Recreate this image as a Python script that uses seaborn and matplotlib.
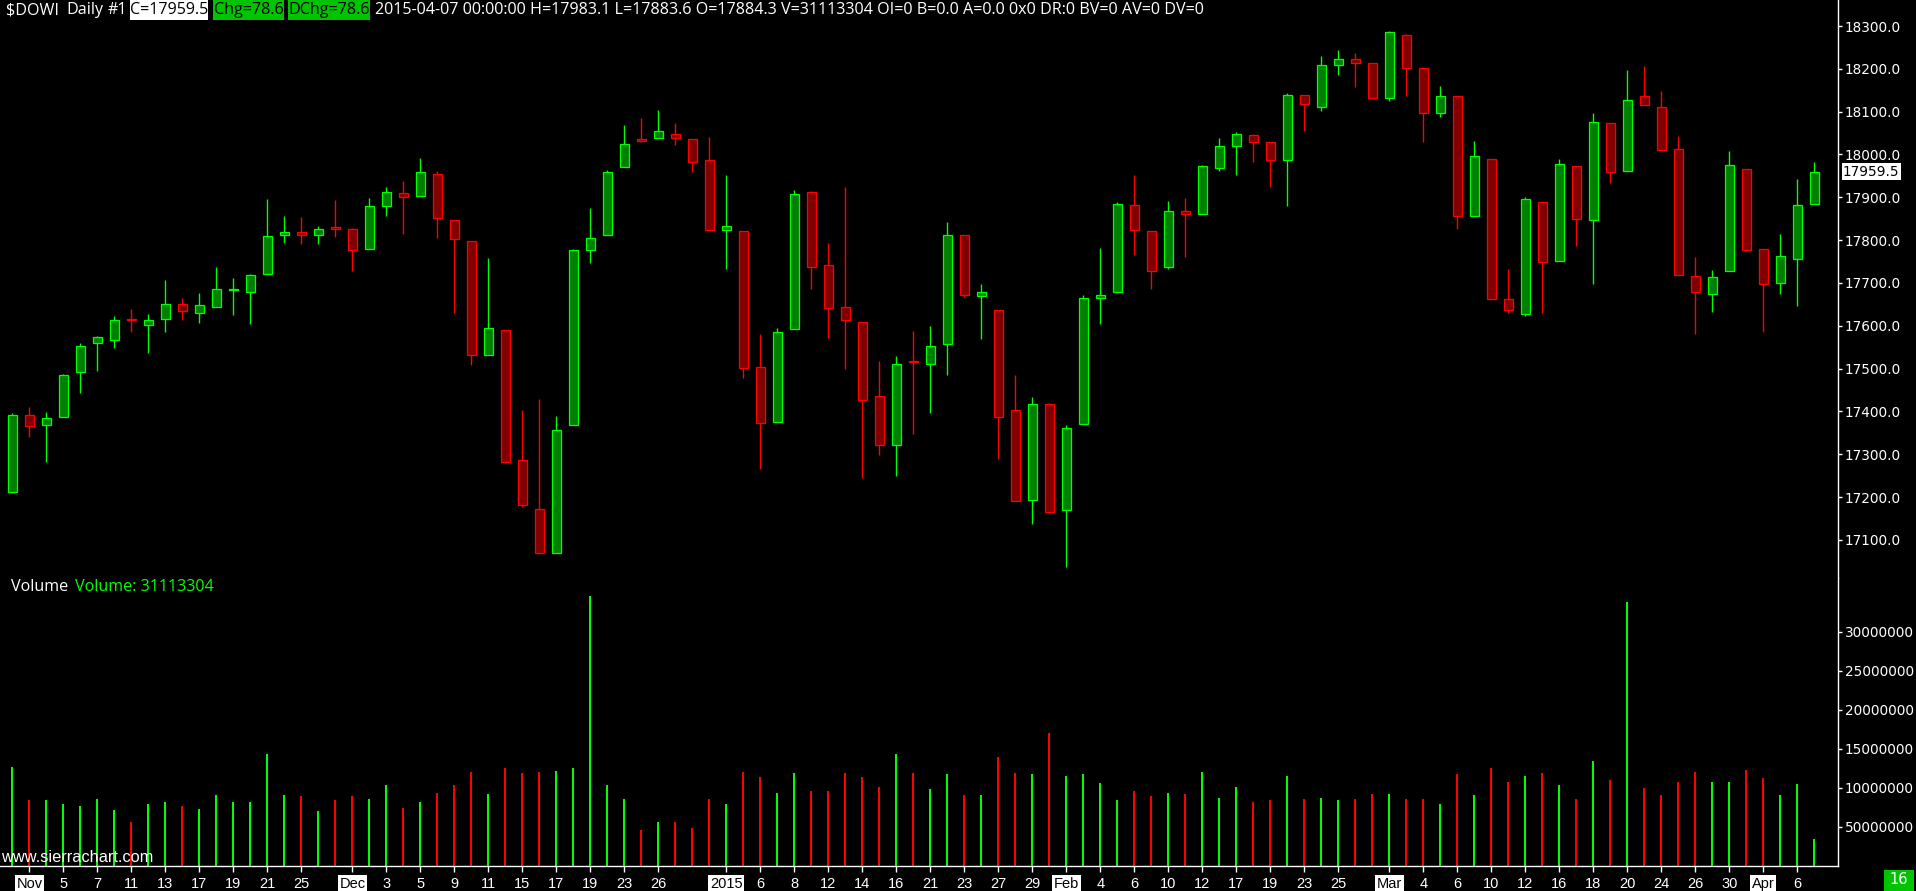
import matplotlib
matplotlib.use("Agg")
import matplotlib.pyplot as plt
from matplotlib.patches import Rectangle
from matplotlib import font_manager
import seaborn as sns
import numpy as np
import pandas as pd

# ---------------- data ----------------
opens = [17211, 17391, 17369, 17386, 17491, 17559, 17568, 17616, 17603, 17617,
         17652, 17631, 17643, 17684, 17678, 17720, 17811, 17818, 17811, 17830,
         17827, 17779, 17880, 17910, 17902, 17954, 17846, 17797, 17533, 17590,
         17286, 17173, 17069, 17368, 17778, 17811, 17970, 18035, 18038, 18047,
         18035, 17986, 17823, 17821, 17503, 17375, 17592, 17912, 17741, 17645,
         17608, 17435, 17321, 17518, 17510, 17557, 17811, 17669, 17638, 17403,
         17193, 17417, 17169, 17370, 17664, 17678, 17881, 17821, 17737, 17867,
         17862, 17968, 18019, 18045, 18028, 17986, 18140, 18112, 18208, 18224,
         18213, 18133, 18280, 18203, 18096, 18136, 17856, 17989, 17662, 17627,
         17888, 17751, 17972, 17846, 18073, 17961, 18136, 18110, 18012, 17716,
         17674, 17727, 17965, 17779, 17699, 17755, 17884.3]
highs = [17396, 17411, 17399, 17487, 17560, 17576, 17623, 17639, 17628, 17707,
         17665, 17677, 17737, 17712, 17721, 17896, 17856, 17854, 17833, 17894,
         17828, 17898, 17924, 17938, 17992, 17961, 17846, 17797, 17758, 17590,
         17404, 17429, 17390, 17779, 17875, 17964, 18069, 18085, 18104, 18073,
         18035, 18042, 17952, 17821, 17581, 17596, 17916, 17914, 17793, 17924,
         17608, 17519, 17529, 17589, 17600, 17842, 17811, 17698, 17638, 17485,
         17434, 17420, 17368, 17671, 17782, 17888, 17952, 17821, 17891, 17898,
         17975, 18038, 18052, 18048, 18028, 18143, 18140, 18230, 18243, 18238,
         18213, 18288, 18281, 18203, 18160, 18136, 18031, 17989, 17733, 17900,
         17888, 17989, 17972, 18096, 18073, 18197, 18207, 18148, 18043, 17761,
         17730, 18008, 17965, 17779, 17814, 17943, 17983.1]
lows = [17209, 17341, 17281, 17386, 17442, 17495, 17549, 17586, 17537, 17586,
        17614, 17607, 17643, 17626, 17605, 17720, 17794, 17792, 17792, 17808,
        17729, 17779, 17857, 17815, 17902, 17806, 17631, 17509, 17533, 17280,
        17178, 17067, 17069, 17368, 17747, 17811, 17970, 18028, 18038, 18023,
        17960, 17823, 17733, 17477, 17265, 17375, 17592, 17687, 17572, 17500,
        17244, 17299, 17250, 17348, 17396, 17484, 17668, 17570, 17290, 17190,
        17137, 17164, 17037, 17370, 17605, 17678, 17766, 17687, 17733, 17761,
        17862, 17962, 17953, 17983, 17925, 17880, 18055, 18101, 18185, 18158,
        18131, 18124, 18137, 18030, 18088, 17827, 17856, 17662, 17629, 17622,
        17631, 17751, 17787, 17698, 17934, 17961, 18115, 18010, 17718, 17582,
        17633, 17727, 17774, 17586, 17675, 17647, 17883.6]
closes = [17392, 17365, 17384, 17484, 17554, 17573, 17613, 17614, 17613, 17652,
          17634, 17648, 17687, 17686, 17718, 17809, 17818, 17813, 17827, 17827,
          17776, 17879, 17912, 17900, 17958, 17851, 17802, 17533, 17596, 17281,
          17181, 17069, 17356, 17778, 17804, 17958, 18024, 18031, 18054, 18038,
          17982, 17823, 17832, 17501, 17372, 17585, 17907, 17737, 17641, 17613,
          17427, 17321, 17512, 17515, 17554, 17813, 17673, 17678, 17386, 17191,
          17417, 17165, 17361, 17666, 17673, 17884, 17823, 17729, 17867, 17862,
          17972, 18019, 18047, 18028, 17986, 18140, 18117, 18208, 18224, 18213,
          18131, 18287, 18203, 18096, 18136, 17856, 17996, 17662, 17636, 17895,
          17748, 17977, 17849, 18075, 17958, 18127, 18115, 18010, 17718, 17678,
          17713, 17975, 17776, 17697, 17762, 17881, 17959.5]
volumes_m = [12.6, 8.4, 8.4, 7.9, 7.6, 8.5, 7.1, 5.6, 7.9, 8.2,
             7.6, 7.3, 9.0, 8.1, 8.2, 14.3, 9.0, 8.9, 7.0, 8.4,
             8.9, 8.5, 10.3, 7.4, 8.2, 9.3, 10.3, 12.0, 9.2, 12.5,
             11.8, 12.0, 12.1, 12.5, 34.6, 10.3, 8.5, 4.5, 5.6, 5.6,
             4.8, 8.5, 7.9, 12.0, 11.4, 9.3, 11.8, 9.5, 9.5, 11.8,
             11.4, 10.1, 14.3, 11.8, 9.8, 11.7, 9.0, 9.0, 13.9, 11.8,
             11.7, 17.0, 11.5, 11.7, 10.6, 8.4, 9.6, 8.9, 9.3, 9.2,
             12.0, 8.7, 10.1, 8.2, 8.4, 11.5, 8.5, 8.7, 8.4, 8.5,
             9.2, 9.2, 8.5, 8.5, 7.9, 11.7, 9.0, 12.5, 10.7, 11.5,
             11.8, 10.3, 8.5, 13.4, 11.0, 33.8, 10.0, 9.0, 10.7, 12.0,
             10.7, 10.7, 12.3, 11.2, 9.0, 10.4, 3.4]

tick_labels = ["Nov", "5", "7", "11", "13", "17", "19", "21", "25",
               "Dec", "3", "5", "9", "11", "15", "17", "19", "23", "26",
               "2015", "6", "8", "12", "14", "16", "21", "23", "27", "29",
               "Feb", "4", "6", "10", "12", "17", "19", "23", "25",
               "Mar", "4", "6", "10", "12", "16", "18", "20", "24", "26", "30",
               "Apr", "6"]
tick_bars = [1, 3, 5, 7, 9, 11, 13, 15, 17,
             20, 22, 24, 26, 28, 30, 32, 34, 36, 38,
             42, 44, 46, 48, 50, 52, 54, 56, 58, 60,
             62, 64, 66, 68, 70, 72, 74, 76, 78,
             81, 83, 85, 87, 89, 91, 93, 95, 97, 99, 101,
             103, 105]
month_labels = ["Nov", "Dec", "2015", "Feb", "Mar", "Apr"]

price_ticks = [17100, 17200, 17300, 17400, 17500, 17600, 17700, 17800,
               17900, 18000, 18100, 18200, 18300]
vol_ticks = [5e6, 10e6, 15e6, 20e6, 25e6, 30e6]
vol_tick_labels = ["50000000", "10000000", "15000000", "20000000",
                   "25000000", "30000000"]

header_symbol = "$DOWI"
header_period = "Daily"
header_num = "#1"
header_close = "C=17959.5"
header_chg = "Chg=78.6"
header_dchg = "DChg=78.6"
header_tail = ("2015-04-07 00:00:00 H=17983.1 L=17883.6 O=17884.3 V=31113304 "
               "OI=0 B=0.0 A=0.0 0x0 DR:0 BV=0 AV=0 DV=0")
last_price = 17959.5
volume_title = "Volume"
volume_value = "Volume: 31113304"
corner_count = "16"
watermark = "www.sierrachart.com"

# ---------------- layout ----------------
W, H, DPI = 1916, 891, 100
AXIS_X = 1838          # right axis line (px)
SPLIT_Y = 578          # boundary price / volume pane (px)
BASE_Y = 865.5         # volume baseline / bottom axis (px)
X0, BAR_PX = 12.33, 17.0
Y_18300, PX_PER_PT = 26.0, 0.4283
VOL_PX_PER_M = 7.8

GREEN = "#00FF00"
GREEN_FILL = "#008000"
RED = "#FF0000"
RED_FILL = "#800000"
BOX_GREEN = "#00C400"

sns.set_theme(style="dark", rc={
    "figure.facecolor": "black", "axes.facecolor": "black",
    "savefig.facecolor": "black", "axes.grid": False,
    "text.color": "white", "xtick.color": "white", "ytick.color": "white",
})

avail = {f.name for f in font_manager.fontManager.ttflist}


def pick(*names):
    for n in names:
        if n in avail:
            return n
    return "DejaVu Sans"


F_AXIS = pick("DejaVu Sans")
F_HEAD = pick("Open Sans", "Noto Sans", "DejaVu Sans")
F_NARROW = pick("Liberation Sans Narrow", "Liberation Sans", "DejaVu Sans")
plt.rcParams["font.family"] = [F_AXIS, "DejaVu Sans"]

fig = plt.figure(figsize=(W / DPI, H / DPI), dpi=DPI, facecolor="black")


def fx(px):
    return px / W


def fy(py):
    return 1 - py / H


ax_p = fig.add_axes([0, fy(SPLIT_Y), fx(AXIS_X), SPLIT_Y / H])
ax_v = fig.add_axes([0, fy(BASE_Y), fx(AXIS_X), (BASE_Y - SPLIT_Y) / H])

n = len(opens)
x = np.arange(n)
o = np.array(opens, float)
hi = np.array(highs, float)
lo = np.array(lows, float)
c = np.array(closes, float)
up = c >= o
edge = np.where(up, GREEN, RED)
fill = np.where(up, GREEN_FILL, RED_FILL)

xlim = (-X0 / BAR_PX, (AXIS_X - X0) / BAR_PX)

# ---- price pane ----
ax_p.vlines(x, lo, hi, colors=edge, linewidth=1.0, zorder=1)
body_lo = np.minimum(o, c)
body_h = np.maximum(np.abs(c - o), 0.6)
ax_p.bar(x, body_h, bottom=body_lo, width=0.56, color=fill, edgecolor=edge,
         linewidth=0.9, zorder=2)
ax_p.set_xlim(*xlim)
ax_p.set_ylim(18300 - (SPLIT_Y - Y_18300) / PX_PER_PT, 18300 + Y_18300 / PX_PER_PT)
ax_p.set_xticks([])
ax_p.yaxis.tick_right()
ax_p.set_yticks(price_ticks, [f"{p:.1f}" for p in price_ticks])
ax_p.tick_params(axis="y", right=True, left=False, labelright=True, labelleft=False,
                 colors="white", length=3, width=1, pad=2, labelsize=9.8,
                 direction="out")
for s in ["top", "left", "bottom"]:
    ax_p.spines[s].set_visible(False)
ax_p.spines["right"].set_color("white")
ax_p.spines["right"].set_linewidth(1.0)

# ---- volume pane (seaborn) ----
vol_df = pd.DataFrame({"bar": x, "volume": np.array(volumes_m) * 1e6,
                       "dir": np.where(up, "up", "down")})
sns.barplot(data=vol_df, x="bar", y="volume", hue="dir",
            palette={"up": GREEN, "down": RED}, native_scale=True,
            width=0.13, dodge=False, legend=False, errorbar=None,
            linewidth=0, saturation=1, ax=ax_v)
ax_v.set_xlim(*xlim)
ax_v.set_ylim(0, (BASE_Y - SPLIT_Y) / VOL_PX_PER_M * 1e6)
ax_v.set_xlabel("")
ax_v.set_ylabel("")
ax_v.yaxis.tick_right()
ax_v.set_yticks(vol_ticks, vol_tick_labels)
ax_v.tick_params(axis="y", right=True, left=False, labelright=True, labelleft=False,
                 colors="white", length=3, width=1, pad=2, labelsize=9.8,
                 direction="out")
ax_v.set_xticks(tick_bars, tick_labels)
ax_v.tick_params(axis="x", bottom=True, colors="white", length=4, width=1,
                 pad=4, labelsize=10.5, direction="out")
for lab in ax_v.get_xticklabels():
    lab.set_fontfamily([F_NARROW, "DejaVu Sans"])
    if lab.get_text() in month_labels:
        lab.set_color("black")
        lab.set_bbox(dict(facecolor="white", edgecolor="none", pad=1.2))
for s in ["top", "left"]:
    ax_v.spines[s].set_visible(False)
for s in ["right", "bottom"]:
    ax_v.spines[s].set_color("white")
    ax_v.spines[s].set_linewidth(1.0)

# ---------------- texts ----------------
renderer = fig.canvas.get_renderer()


def ptext(px, py, s, **kw):
    return fig.text(fx(px), fy(py), s, **kw)


HEAD_Y = 10
tail = ptext(375, HEAD_Y, header_tail, ha="left", va="center", color="white",
             fontsize=11, fontfamily=[F_HEAD, "DejaVu Sans"])
wt = tail.get_window_extent(renderer).width
head_fs = 11 * 831.0 / wt
tail.set_fontsize(head_fs)

for s, px in [(header_symbol, 6), (header_period, 66), (header_num, 108)]:
    ptext(px, HEAD_Y, s, ha="left", va="center", color="white", fontsize=head_fs,
          fontfamily=[F_HEAD, "DejaVu Sans"])

for s, x0, x1, bg in [(header_close, 130, 208, "white"),
                      (header_chg, 213, 284, BOX_GREEN),
                      (header_dchg, 288, 370, BOX_GREEN)]:
    fig.add_artist(Rectangle((fx(x0), fy(20)), fx(x1 - x0), 20 / H,
                             transform=fig.transFigure, facecolor=bg,
                             edgecolor="none", zorder=3))
    ptext((x0 + x1) / 2, HEAD_Y, s, ha="center", va="center", color="black",
          fontsize=head_fs, fontfamily=[F_HEAD, "DejaVu Sans"], zorder=4)

# volume pane title
ptext(11, 587, volume_title, ha="left", va="center", color="white",
      fontsize=head_fs, fontfamily=[F_HEAD, "DejaVu Sans"])
ptext(75, 587, volume_value, ha="left", va="center", color=GREEN,
      fontsize=head_fs, fontfamily=[F_HEAD, "DejaVu Sans"])

# last price marker on the price scale
y_last = Y_18300 + (18300 - last_price) * PX_PER_PT
ptext(AXIS_X + 5, y_last, f"{last_price:.1f}", ha="left", va="center",
      color="black", fontsize=9.8, fontfamily=[F_AXIS],
      bbox=dict(facecolor="white", edgecolor="none", pad=1.0))

# watermark
ptext(1, 857, watermark, ha="left", va="center", color="white",
      fontsize=11.8, fontfamily=[F_NARROW, "DejaVu Sans"], zorder=5)

# bottom-right counter box
fig.add_artist(Rectangle((fx(1884), fy(891)), fx(30), 21 / H,
                         transform=fig.transFigure, facecolor=BOX_GREEN,
                         edgecolor="none", zorder=3))
ptext(1899, 880, corner_count, ha="center", va="center", color="white",
      fontsize=10.5, fontfamily=[F_AXIS], zorder=4)

fig.savefig("out.png", dpi=DPI, facecolor="black")
